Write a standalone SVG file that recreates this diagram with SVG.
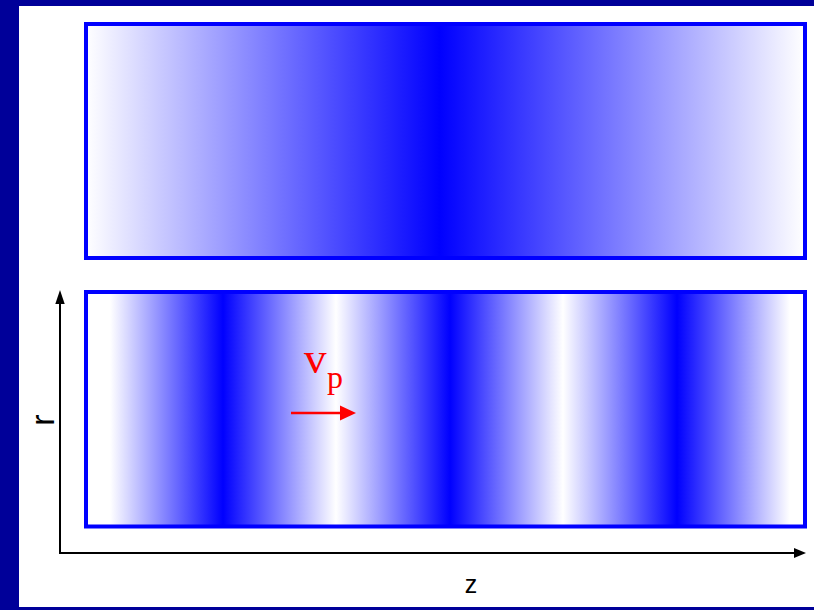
<svg xmlns="http://www.w3.org/2000/svg" width="814" height="610" viewBox="0 0 814 610">
  <style>
    .panel { stroke: #0000ff; stroke-width: 4; }
    .axis { stroke: #000000; stroke-width: 2; fill: none; }
    .lbl { font-family: "Liberation Sans", Arial, sans-serif; fill: #000000; }
    .vp { font-family: "Liberation Serif", "Times New Roman", serif; fill: #ff0000; }
  </style>
  <defs>
    <linearGradient id="gTop" gradientUnits="userSpaceOnUse" x1="86" y1="0" x2="805" y2="0">
      <stop offset="0" stop-color="#ffffff"/>
      <stop offset="0.492" stop-color="#0000ff"/>
      <stop offset="1" stop-color="#ffffff"/>
    </linearGradient>
    <linearGradient id="gBot" gradientUnits="userSpaceOnUse" x1="86" y1="0" x2="805" y2="0">
      <stop offset="0" stop-color="#ffffff"/>
      <stop offset="0.0334" stop-color="#ffffff"/>
      <stop offset="0.1906" stop-color="#0000ff"/>
      <stop offset="0.3477" stop-color="#ffffff"/>
      <stop offset="0.5063" stop-color="#0000ff"/>
      <stop offset="0.6634" stop-color="#ffffff"/>
      <stop offset="0.8220" stop-color="#0000ff"/>
      <stop offset="0.9791" stop-color="#ffffff"/>
      <stop offset="1" stop-color="#ffffff"/>
    </linearGradient>
  </defs>

  <rect x="0" y="0" width="814" height="610" fill="#000099"/>
  <rect x="19" y="6" width="795" height="601" fill="#ffffff"/>

  <g id="top-panel">
    <rect class="panel" x="86" y="24" width="719" height="234" fill="url(#gTop)"/>
  </g>
  <g id="bottom-panel">
    <rect class="panel" x="86" y="292" width="719" height="234.5" fill="url(#gBot)"/>
  </g>

  <g id="axes">
    <line class="axis" x1="60" y1="554" x2="60" y2="302"/>
    <polygon points="55.3,304 60,290 64.7,304" fill="#000000"/>
    <line class="axis" x1="59" y1="553" x2="795" y2="553"/>
    <polygon points="794,548 806,553 794,558" fill="#000000"/>
  </g>

  <g id="labels">
    <text class="lbl" font-size="34" text-anchor="middle" transform="translate(54,420) rotate(-90)">r</text>
    <text class="lbl" font-size="25" text-anchor="middle" x="471" y="593">z</text>
  </g>

  <g id="velocity">
    <text class="vp" x="304" y="373" font-size="45">v</text>
    <text class="vp" x="327" y="388" font-size="32">p</text>
    <line x1="291" y1="413" x2="343" y2="413" stroke="#ff0000" stroke-width="2.5"/>
    <polygon points="340,405.5 356,413 340,420.5" fill="#ff0000"/>
  </g>
</svg>
